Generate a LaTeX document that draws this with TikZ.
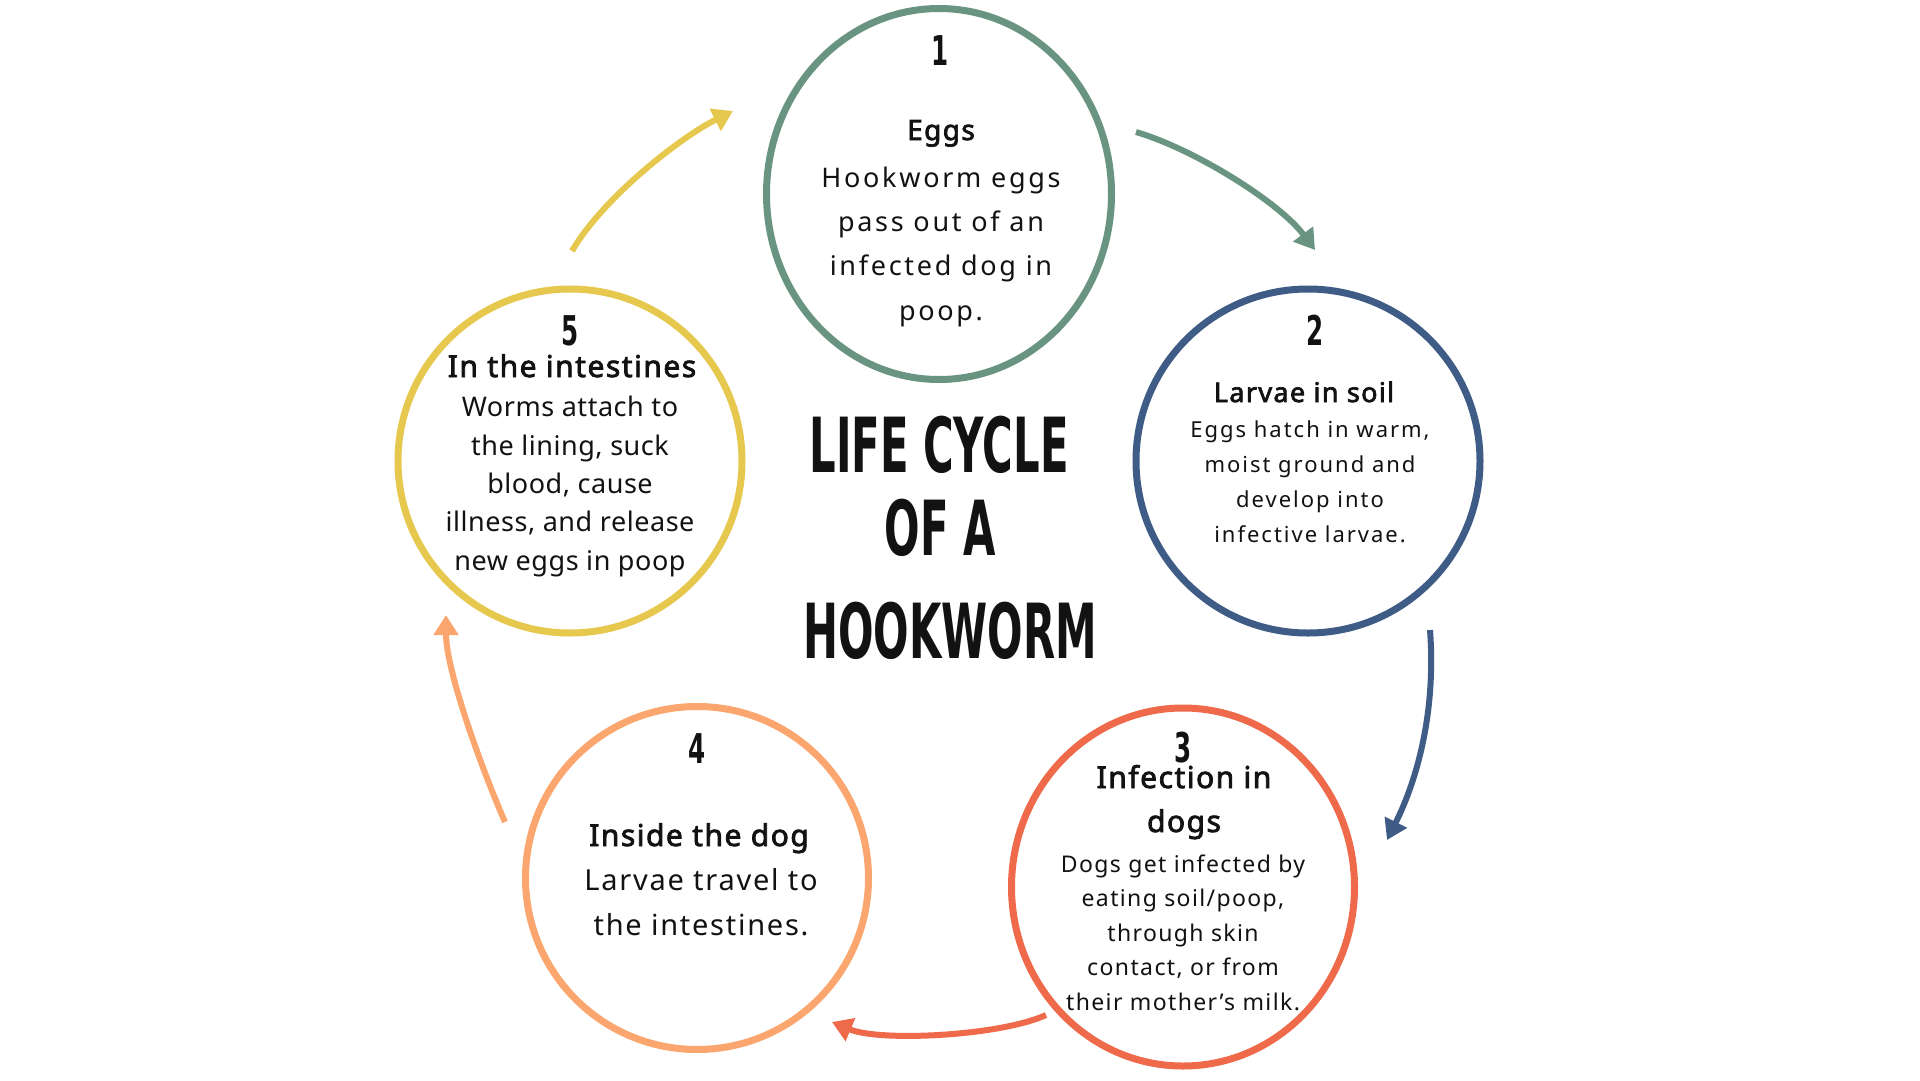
\documentclass[tikz,border=0pt]{standalone}
\usepackage{fontspec}
\setmainfont{Noto Sans}[AutoFakeBold=2.6]
\newfontfamily\handfont{DejaVu Sans}
\usetikzlibrary{arrows.meta,shapes.geometric}

\definecolor{eggsgreen}{HTML}{6A9482}
\definecolor{soilblue}{HTML}{3E5C86}
\definecolor{dogcoral}{HTML}{EE6A4A}
\definecolor{insidepeach}{HTML}{FBA66E}
\definecolor{gutyellow}{HTML}{E7C84F}
\definecolor{ink}{HTML}{121212}

\newcommand{\hand}[2]{\scalebox{#1}[1]{#2}}

\tikzset{
  ring/.style={ellipse, draw=#1, line width=7pt, inner sep=0pt},
  flow/.style={draw=#1, line width=6pt, -{Triangle[length=20pt,width=24pt]}},
  stagenum/.style={anchor=base, text=ink, font=\handfont\bfseries\fontsize{41}{41}\selectfont},
  headline/.style={anchor=base, text=ink, align=center,
    font=\bfseries\addfontfeatures{LetterSpace=5}\fontsize{#1}{44}\selectfont},
  bodytext/.style args={#1/#2/#3}{anchor=base, text=ink, align=center,
    font=\addfontfeatures{LetterSpace=#3}\fontsize{#1}{#2}\selectfont},
  titleline/.style={anchor=base, text=ink, font=\handfont\bfseries\fontsize{76}{76}\selectfont}
}

\begin{document}
\begin{tikzpicture}[x=1pt, y=-1pt]
  \fill[white] (0,0) rectangle (1920,1080);

  \node[ring=eggsgreen, minimum width=345pt, minimum height=371pt] (eggs) at (939,194) {};
  \node[ring=soilblue, minimum width=344pt, minimum height=344pt] (soil) at (1308,461) {};
  \node[ring=dogcoral, minimum width=343pt, minimum height=358pt] (infection) at (1183,887) {};
  \node[ring=insidepeach, minimum width=343pt, minimum height=343pt] (inside) at (697,878) {};
  \node[ring=gutyellow, minimum width=344pt, minimum height=344pt] (intestines) at (570,461) {};

  \node[stagenum] (eggsnum) at (940,65) {\hand{0.6}{1}};
  \node[headline=28] (eggshead) at (941,140) {Eggs};
  \node[bodytext=27/44.3/10] (eggsbody) at (941,320)
    {Hookworm eggs\\pass out of an\\infected dog in\\poop.};

  \node[stagenum] (soilnum) at (1315,345) {\hand{0.6}{2}};
  \node[headline=27] (soilhead) at (1304,402) {Larvae in soil};
  \node[bodytext=22/35/9] (soilbody) at (1310,542)
    {Eggs hatch in warm,\\moist ground and\\develop into\\infective larvae.};

  \node[stagenum] (infectionnum) at (1183,762) {\hand{0.6}{3}};
  \node[headline=30] (infectionhead) at (1184,832) {Infection in\\dogs};
  \node[bodytext=23/34.5/6] (infectionbody) at (1183,1010)
    {Dogs get infected by\\eating soil/poop,\\through skin\\contact, or from\\their mother’s milk.};

  \node[stagenum] (insidenum) at (697,763) {\hand{0.6}{4}};
  \node[headline=30] (insidehead) at (699,846) {Inside the dog};
  \node[bodytext=29/45/6] (insidebody) at (701,935)
    {Larvae travel to\\the intestines.};

  \node[stagenum] (intestinesnum) at (570,345) {\hand{0.6}{5}};
  \node[headline=30] (intestineshead) at (572,377) {In the intestines};
  \node[bodytext=27/38.3/2] (intestinesbody) at (570,570)
    {Worms attach to\\the lining, suck\\blood, cause\\illness, and release\\new eggs in poop};

  \node[titleline] (lifecycle) at (939,472) {\hand{0.55}{LIFE CYCLE}};
  \node[titleline] (ofa) at (940,555) {\hand{0.55}{OF A}};
  \node[titleline] (hookworm) at (950,658) {\hand{0.55}{HOOKWORM}};

  \coordinate (eggsout) at (1136,132);
  \coordinate (soilin) at (1315,250);
  \coordinate (soilout) at (1430,630);
  \coordinate (infectionin) at (1387,840);
  \coordinate (infectionout) at (1046,1015);
  \coordinate (insidein) at (832,1022);
  \coordinate (insideout) at (505,822);
  \coordinate (intestinesin) at (446,615);
  \coordinate (intestinesout) at (572,251);
  \coordinate (eggsin) at (733,111);

  \draw[flow=eggsgreen] (eggsout) .. controls (1194,149) and (1279,202) .. (soilin);
  \draw[flow=soilblue] (soilout) .. controls (1436,710) and (1418,778) .. (infectionin);
  \draw[flow=dogcoral] (infectionout) .. controls (1000,1036) and (880,1042) .. (insidein);
  \draw[flow=insidepeach] (insideout) .. controls (481,767) and (446,670) .. (intestinesin);
  \draw[flow=gutyellow] (intestinesout) .. controls (602,199) and (679,138) .. (eggsin);
\end{tikzpicture}
\end{document}
